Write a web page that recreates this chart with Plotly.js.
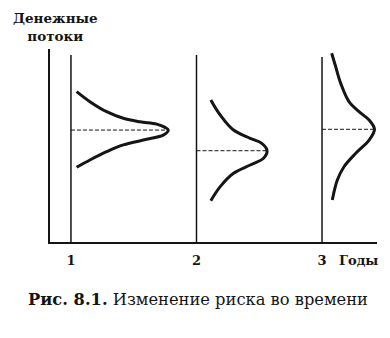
<!DOCTYPE html>
<html><head><meta charset="utf-8">
<script src="https://cdn.plot.ly/plotly-3.0.1.min.js"></script>
<style>html,body{margin:0;padding:0;background:#fff}#c{width:390px;height:338px}</style>
</head><body><div id="c"></div>
<script>
// Years on the horizontal axis
const years = [1, 2, 3];
const tickLabels = ['1', '2', '3'];
// Top of each year's vertical line (cash-flow units, 0..100)
const lineTops = [96.9, 96.9, 95.9];
// Expected cash flow (dashed line level) per year
const means = [58.0, 47.3, 58.4];
// Distribution curves: horizontal offset from the year line (in years) and cash flow
const dens1 = [0.045, 0.151, 0.284, 0.417, 0.550, 0.683, 0.749, 0.775, 0.735, 0.603, 0.417, 0.284, 0.151, 0.045];
const flow1 = [77.9, 72.7, 67.5, 64.1, 62.3, 61.1, 59.4, 58.0, 55.4, 53.2, 50.3, 46.8, 42.5, 38.7];
const dens2 = [0.114, 0.189, 0.295, 0.428, 0.520, 0.562, 0.534, 0.428, 0.295, 0.189, 0.114];
const flow2 = [73.6, 65.8, 58.0, 53.7, 51.1, 47.3, 43.4, 39.9, 35.6, 28.7, 21.4];
const dens3 = [0.077, 0.109, 0.149, 0.215, 0.295, 0.375, 0.418, 0.375, 0.269, 0.175, 0.122, 0.082];
const flow3 = [97.8, 90.8, 82.2, 72.7, 67.5, 63.2, 58.4, 52.8, 46.0, 39.0, 32.1, 21.8];

const dens = [dens1, dens2, dens3];
const flows = [flow1, flow2, flow3];
const ink = '#151515';
const traces = [];
years.forEach((yr, i) => {
  traces.push({x: [yr, yr], y: [0, lineTops[i]], mode: 'lines', line: {color: ink, width: 1.5}, hoverinfo: 'skip'});
  const peak = Math.max(...dens[i]);
  traces.push({x: [yr, yr + peak], y: [means[i], means[i]], mode: 'lines', line: {color: ink, width: 1, dash: '4px,2px'}, hoverinfo: 'skip'});
  traces.push({x: dens[i].map(d => yr + d), y: flows[i], mode: 'lines', line: {color: ink, width: 3, shape: 'spline', smoothing: 1}, hoverinfo: 'skip'});
});

const layout = {
  width: 390, height: 338,
  margin: {l: 50, r: 13, t: 49, b: 96},
  paper_bgcolor: '#fff', plot_bgcolor: '#fff',
  showlegend: false,
  xaxis: {range: [0.833, 3.438], showgrid: false, zeroline: false, showline: true, linecolor: ink, linewidth: 2,
          tickvals: years, ticktext: tickLabels, ticks: '', ticklabelstandoff: 5,
          tickfont: {family: 'DejaVu Serif', size: 13, color: ink, weight: 'bold'}},
  yaxis: {range: [0, 100], showgrid: false, zeroline: false, showline: true, linecolor: ink, linewidth: 2,
          showticklabels: false, ticks: ''},
  annotations: [
    {text: '<b>Денежные</b><br><b>потоки</b>', xref: 'paper', yref: 'paper', x: 0.018, y: 1.0, yshift: 3,
     xanchor: 'center', yanchor: 'bottom', showarrow: false, align: 'center',
     font: {family: 'DejaVu Serif', size: 13.5, color: ink}},
    {text: '<b>Годы</b>', xref: 'x', yref: 'paper', x: 3.29, y: 0, yshift: -18,
     xanchor: 'center', yanchor: 'middle', showarrow: false,
     font: {family: 'DejaVu Serif', size: 13, color: ink}},
    {text: '<b>Рис. 8.1.</b> Изменение риска во времени', xref: 'paper', yref: 'paper', x: 0.454, y: 0, yshift: -57,
     xanchor: 'center', yanchor: 'middle', showarrow: false,
     font: {family: 'DejaVu Serif', size: 16.3, color: ink}}
  ]
};
Plotly.newPlot('c', traces, layout, {staticPlot: true, displayModeBar: false});
</script></body></html>
